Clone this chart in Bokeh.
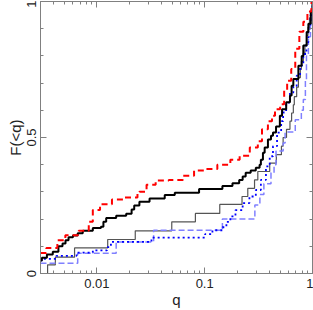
from bokeh.plotting import figure
from bokeh.models import FixedTicker, LogAxis, LinearAxis, Range1d
from bokeh.embed import file_html
from bokeh.resources import INLINE

# ---- data (q where the CDF steps, F after the step) ----
red_q = [0.003, 0.0034, 0.0043, 0.0051, 0.00678, 0.00841, 0.00917, 0.0107, 0.0138,
         0.0179, 0.0238, 0.0248, 0.0289, 0.0351, 0.0464, 0.0628, 0.0797, 0.103, 0.131,
         0.173, 0.211, 0.262, 0.311, 0.340, 0.386, 0.421, 0.449, 0.501, 0.546, 0.582,
         0.635, 0.692, 0.755, 0.822, 0.897, 0.979, 1.0]
red_F = [0.075, 0.094, 0.122, 0.141, 0.157, 0.19, 0.233, 0.255, 0.272,
         0.279, 0.293, 0.301, 0.326, 0.342, 0.344, 0.359, 0.379, 0.384, 0.40,
         0.418, 0.433, 0.463, 0.486, 0.53, 0.56, 0.58, 0.604, 0.622, 0.672, 0.709,
         0.752, 0.826, 0.889, 0.926, 0.963, 1.0, 1.0]

black_q = [0.003, 0.00309, 0.00344, 0.0039, 0.0044, 0.0048, 0.00512, 0.00546, 0.006,
           0.00664, 0.0074, 0.00917, 0.0109, 0.0115, 0.0122, 0.0151, 0.0187, 0.021,
           0.0222, 0.0248, 0.0308, 0.0426, 0.0528, 0.0887, 0.146, 0.181, 0.209, 0.225,
           0.240, 0.267, 0.298, 0.323, 0.332, 0.347, 0.360, 0.386, 0.412, 0.430, 0.459,
           0.498, 0.522, 0.570, 0.618, 0.640, 0.664, 0.740, 0.794, 0.822, 0.883, 0.916,
           0.964, 1.0]
black_F = [0.048, 0.058, 0.070, 0.080, 0.10, 0.11, 0.122, 0.133, 0.14,
           0.148, 0.157, 0.167, 0.172, 0.19, 0.204, 0.212, 0.22, 0.235,
           0.25, 0.264, 0.276, 0.289, 0.297, 0.311, 0.322, 0.332, 0.344, 0.357,
           0.37, 0.379, 0.389, 0.40, 0.418, 0.444, 0.463, 0.493, 0.506, 0.518, 0.54,
           0.58, 0.604, 0.63, 0.654, 0.69, 0.715, 0.764, 0.80, 0.838, 0.888, 0.918,
           0.962, 1.0]

gray_q = [0.003, 0.00349, 0.00412, 0.00621, 0.0126, 0.0227, 0.0495, 0.082, 0.138,
          0.222, 0.251, 0.29, 0.311, 0.401, 0.462, 0.515, 0.534, 0.574, 0.618, 0.640,
          0.664, 0.678, 0.713, 0.740, 0.771, 0.788, 0.822, 0.851, 0.879, 0.908, 0.938,
          0.968, 1.0]
gray_F = [0.0, 0.032, 0.06, 0.094, 0.125, 0.157, 0.19, 0.221, 0.254,
          0.283, 0.313, 0.344, 0.375, 0.406, 0.437, 0.468, 0.50, 0.53, 0.56, 0.59,
          0.62, 0.65, 0.685, 0.72, 0.75, 0.78, 0.81, 0.84, 0.875, 0.905, 0.94,
          0.97, 1.0]

blue_q = [0.003, 0.00318, 0.00421, 0.00649, 0.00917, 0.0124, 0.0135, 0.0321, 0.101,
          0.118, 0.146, 0.159, 0.173, 0.193, 0.225, 0.26, 0.298, 0.332, 0.370, 0.401,
          0.430, 0.469, 0.512, 0.534, 0.570, 0.618, 0.664, 0.713, 0.767, 0.822, 0.879,
          0.916, 0.957, 1.0]
blue_F = [0.048, 0.054, 0.065, 0.077, 0.085, 0.097, 0.116, 0.132, 0.145,
          0.159, 0.17, 0.19, 0.21, 0.233, 0.259, 0.283, 0.307, 0.344, 0.394, 0.431,
          0.468, 0.518, 0.56, 0.592, 0.628, 0.665, 0.69, 0.727, 0.764, 0.807, 0.85,
          0.9, 0.95, 1.0]

lblue_q = [0.003, 0.00664, 0.0151, 0.0336, 0.146, 0.292, 0.325, 0.354, 0.412, 0.44,
           0.459, 0.534, 0.557, 0.692, 0.788, 0.822, 0.859, 0.879, 0.916, 0.957,
           0.979, 1.0]
lblue_F = [0.038, 0.074, 0.116, 0.159, 0.20, 0.252, 0.29, 0.33, 0.37, 0.40,
           0.45, 0.48, 0.52, 0.565, 0.60, 0.64, 0.71, 0.80, 0.87, 0.93,
           0.97, 1.0]

x_major = [0.01, 0.1, 1.0]
x_labels = {0.01: "0.01", 0.1: "0.1", 1.0: "1"}
x_minor = [0.003, 0.004, 0.005, 0.006, 0.007, 0.008, 0.009,
           0.02, 0.03, 0.04, 0.05, 0.06, 0.07, 0.08, 0.09,
           0.2, 0.3, 0.4, 0.5, 0.6, 0.7, 0.8, 0.9]
y_major = [0.0, 0.5, 1.0]
y_minor = [0.1, 0.2, 0.3, 0.4, 0.6, 0.7, 0.8, 0.9]

AX = "#808080"
TXT = "#222222"
FONT = "Liberation Sans"

p = figure(width=313, height=310, x_axis_type="log",
           x_range=Range1d(0.003, 1.0), y_range=Range1d(0.0, 1.0),
           output_backend="svg", toolbar_location=None,
           min_border_left=40, min_border_right=1, min_border_top=1, min_border_bottom=37,
           x_axis_label="q", y_axis_label="F(<q)",
           styles={"position": "absolute", "left": "0px", "top": "0px"})
p.background_fill_color = "white"
p.border_fill_color = "white"
p.outline_line_color = AX
p.grid.visible = False

def style_axis(ax, ticks, minor, show_labels):
    ax.ticker = FixedTicker(ticks=ticks, minor_ticks=minor)
    ax.axis_line_color = AX
    ax.major_tick_line_color = AX
    ax.minor_tick_line_color = AX
    ax.major_tick_in = 6
    ax.major_tick_out = 0
    ax.minor_tick_in = 3
    ax.minor_tick_out = 0
    ax.major_label_text_font = FONT
    if show_labels:
        ax.major_label_text_color = TXT
        ax.major_label_text_font_size = "13px"
    else:
        ax.major_label_text_color = None
        ax.major_label_text_font_size = "1px"
        ax.major_label_standoff = 0

xa = p.xaxis[0]
style_axis(xa, x_major, x_minor, True)
xa.major_label_overrides = x_labels
xa.major_label_standoff = 5
xa.axis_label_text_font = FONT
xa.axis_label_text_color = TXT
xa.axis_label_text_font_size = "15px"
xa.axis_label_text_font_style = "normal"
xa.axis_label_standoff = 0

ya = p.yaxis[0]
style_axis(ya, y_major, y_minor, True)
ya.major_label_orientation = "vertical"
ya.major_label_standoff = 5
ya.axis_label_text_font = FONT
ya.axis_label_text_color = TXT
ya.axis_label_text_font_size = "15px"
ya.axis_label_text_font_style = "normal"
ya.axis_label_standoff = 0

top = LogAxis()
style_axis(top, x_major, x_minor, False)
p.add_layout(top, "above")
right = LinearAxis()
style_axis(right, y_major, y_minor, False)
p.add_layout(right, "right")

p.step(gray_q, gray_F, mode="after", line_color="#555555", line_width=1.2)
p.step(lblue_q, lblue_F, mode="after", line_color="#8080ff", line_width=1.5, line_dash="6 3")
p.step(blue_q, blue_F, mode="after", line_color="#0000ff", line_width=1.8, line_dash="2 3")
p.step(black_q, black_F, mode="after", line_color="black", line_width=2)
p.step(red_q, red_F, mode="after", line_color="#ff0000", line_width=2, line_dash="6 4")

open("out.html", "w").write(file_html(p, INLINE))
